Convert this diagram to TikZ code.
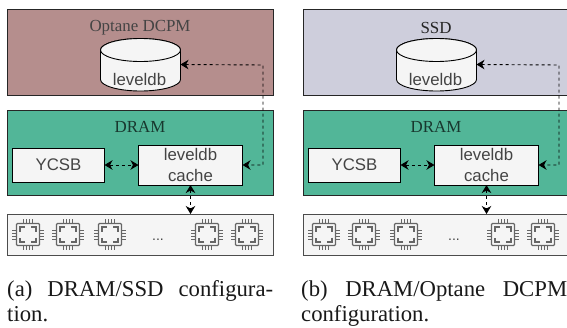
\documentclass[tikz,border=0pt]{standalone}
\usepackage{fontspec}
\setmainfont{Liberation Serif}
\setsansfont{Liberation Sans}
\usetikzlibrary{arrows.meta}
\definecolor{optane}{HTML}{B58E8D}
\definecolor{ssdc}{HTML}{CECEDC}
\definecolor{dramc}{HTML}{52B698}
\definecolor{boxc}{HTML}{F5F5F5}
\definecolor{txt}{HTML}{444444}
\definecolor{chipc}{HTML}{666666}
\tikzset{
  x=1pt,y=-1pt,
  panel/.style={draw=black!85,line width=0.9pt,minimum width=266pt,anchor=north west,inner sep=0pt,outer sep=0pt},
  inbox/.style={draw=black,line width=0.9pt,fill=boxc,text=txt,font=\sffamily\fontsize{16.8}{21.5}\selectfont,align=center,inner sep=0pt,outer sep=0pt},
  title/.style={font=\fontsize{16.9}{18}\selectfont},
  link/.style={draw=black,line width=0.9pt,dash pattern=on 3pt off 3pt,{Stealth[length=8pt,width=9.5pt,inset=2.5pt]}-{Stealth[length=8pt,width=9.5pt,inset=2.5pt]}},
  caption/.style={anchor=base west,inner sep=0pt,font=\fontsize{22.7}{25}\selectfont,text=black!90},
  chippic/.style={draw=chipc,line width=1.3pt},
  pics/chip/.style={code={
    \draw[chippic,rounded corners=1pt] (-11.5,-11) rectangle (11.5,11);
    \draw[chippic] (-8,-3)--(-8,-7.5)--(-3,-7.5) (3,-7.5)--(8,-7.5)--(8,-3)
      (8,3)--(8,7.5)--(3,7.5) (-3,7.5)--(-8,7.5)--(-8,3);
    \foreach \p in {-4.5,-1.5,1.5,4.5}{
      \draw[chippic,line width=1pt] (\p,-15.5)--(\p,-11) (\p,11)--(\p,15.5) (-16,\p)--(-11.5,\p) (11.5,\p)--(16,\p);
    }
  }},
}
\newcommand{\configpanel}[7]{%
\begin{scope}[xshift=#1pt]
  \node[panel,fill=#3,minimum height=85.5pt] (#2store) at (7.5,9.5) {};
  \node[title,text=#5] (#2storelabel) at (140,27.5) {#4};
  \draw[draw=black,line width=0.9pt,fill=boxc]
    (100.5,50) -- (100.5,79.5) arc[start angle=180,end angle=360,x radius=40,y radius=-11.5]
    -- (180.5,50) arc[start angle=0,end angle=180,x radius=40,y radius=-11.5] -- cycle;
  \draw[draw=black,line width=0.9pt,fill=boxc] (140.5,50) ellipse[x radius=40,y radius=11.5];
  \node[draw=none,minimum width=80pt,minimum height=53pt,inner sep=0pt,outer sep=0pt] (#2db) at (140.5,64.5) {};
  \node[text=txt,font=\sffamily\fontsize{16.8}{18}\selectfont,inner sep=0pt] (#2dblabel) at (139.5,79) {leveldb};
  \node[panel,fill=dramc,minimum height=85pt] (#2dram) at (7.5,110) {};
  \node[title,text=black!70!dramc] (#2dramlabel) at (140,127) {DRAM};
  \node[inbox,minimum width=92pt,minimum height=34pt] (#2ycsb) at (58.5,165) {YCSB};
  \node[inbox,minimum width=104pt,minimum height=40pt] (#2cache) at (190.5,165) {leveldb\\cache};
  \node[panel,fill=boxc,draw=black!70,minimum height=41pt] (#2chips) at (7.5,214) {};
  \pic at (28,234.5) {chip};
  \pic at (68,234.5) {chip};
  \pic at (110,234.5) {chip};
  \pic at (207,234.5) {chip};
  \pic at (247,234.5) {chip};
  \node[text=txt,font=\sffamily\fontsize{14}{14}\selectfont,inner sep=0pt] (#2dots) at (158,239.5) {...};
  \draw[link] (#2ycsb.east) -- (#2cache.west);
  \draw[link] (#2cache.south) -- (#2chips.north -| #2cache.south);
  \coordinate (#2turn) at (263,65);
  \draw[link] (#2db.east) -- (#2turn) -- (#2turn |- #2cache.east) -- (#2cache.east);
  \node[caption] (#2capa) at (#6,296.5) {\makebox[266pt][s]{#7}};
\end{scope}}
\begin{document}
\begin{tikzpicture}
\useasboundingbox (0,0) rectangle (567,327);
\configpanel{0}{a}{optane}{Optane DCPM}{txt}{7}{(a) DRAM/SSD configura-}
\node[caption] (acapb) at (7,321.5) {tion.};
\configpanel{296}{b}{ssdc}{SSD}{black!85}{5}{(b) DRAM/Optane DCPM}
\node[caption] (bcapb) at (301,321.5) {configuration.};
\end{tikzpicture}
\end{document}
